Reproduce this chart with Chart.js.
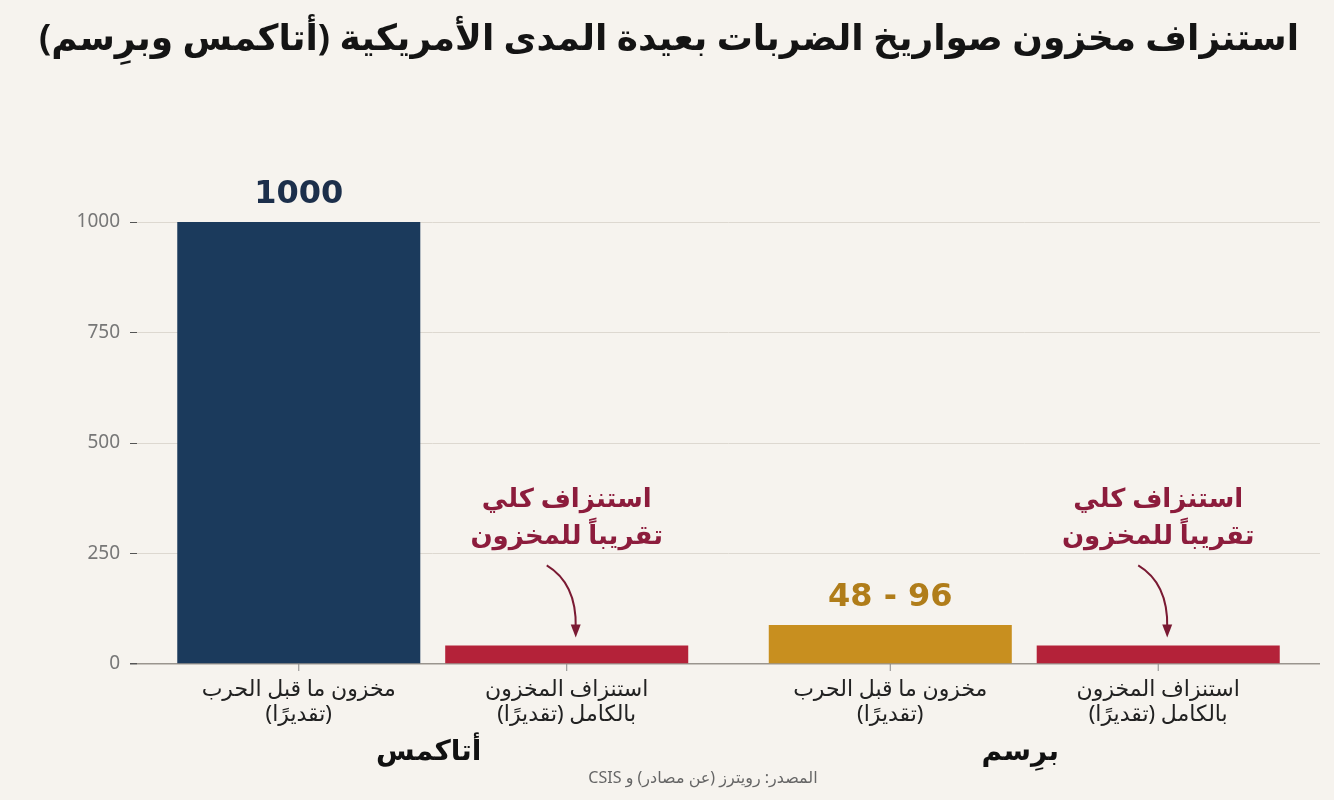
<!DOCTYPE html>
<html>
<head>
  <meta charset="UTF-8" />
  <title>Stock depletion</title>
  <script src="https://cdn.jsdelivr.net/npm/chart.js"></script>
  <style>
    html, body { margin: 0; padding: 0; background: #f6f3ee; }
    #wrap { width: 1334px; height: 800px; position: relative; }
  </style>
</head>
<body>
  <div id="wrap"><canvas id="stockChart"></canvas></div>

  <script>
    // data
    const groups = ['أتاكمس', 'برِسم'];
    const seriesNames = ['مخزون ما قبل الحرب (تقديرًا)', 'استنزاف المخزون بالكامل (تقديرًا)'];
    const preWarStock = [1000, 88];
    const depletedStock = [42, 42];
    const preWarValueLabels = ['1000', '48 - 96'];
    const yTicks = [0, 250, 500, 750, 1000];
    const preWarLines = ['مخزون ما قبل الحرب', '(تقديرًا)'];
    const depletedLines = ['استنزاف المخزون', 'بالكامل (تقديرًا)'];
    const noteLines = ['استنزاف كلي', 'تقريباً للمخزون'];
    const titleText = 'استنزاف مخزون صواريخ الضربات بعيدة المدى الأمريكية (أتاكمس وبرِسم)';
    const sourceText = 'المصدر: رويترز (عن مصادر) و CSIS';

    const NAVY = '#1b3a5c';
    const GOLD = '#c88f1f';
    const RED = '#b42239';
    const NOTE = '#8c1c3c';
    const FONT = '"Noto Sans", "DejaVu Sans", sans-serif';

    function text(ctx, str, x, y, font, color, dir) {
      ctx.save();
      ctx.font = font;
      ctx.fillStyle = color;
      ctx.textAlign = 'center';
      ctx.textBaseline = 'middle';
      ctx.direction = dir || 'rtl';
      ctx.fillText(str, x, y);
      ctx.restore();
    }

    const decor = {
      id: 'decor',
      beforeDraw(chart) {
        const ctx = chart.ctx;
        ctx.save();
        ctx.fillStyle = '#f6f3ee';
        ctx.fillRect(0, 0, chart.width, chart.height);
        ctx.restore();
      },
      afterDraw(chart) {
        const ctx = chart.ctx;
        const area = chart.chartArea;
        const pre = chart.getDatasetMeta(0).data;
        const dep = chart.getDatasetMeta(1).data;

        text(ctx, titleText, chart.width / 2 + 2, 40, 'bold 36px ' + FONT, '#141414');

        pre.forEach((bar, i) => {
          text(ctx, preWarValueLabels[i], bar.x, bar.y - 27, 'bold 32px "DejaVu Sans", sans-serif',
            i === 0 ? '#1c2f4b' : '#b07d1a', 'ltr');
          text(ctx, preWarLines[0], bar.x, area.bottom + 26, '22px ' + FONT, '#222');
          text(ctx, preWarLines[1], bar.x, area.bottom + 51, '22px ' + FONT, '#222');
        });

        dep.forEach((bar) => {
          text(ctx, depletedLines[0], bar.x, area.bottom + 26, '22px ' + FONT, '#222');
          text(ctx, depletedLines[1], bar.x, area.bottom + 51, '22px ' + FONT, '#222');
          text(ctx, noteLines[0], bar.x, 500, 'bold 26px ' + FONT, NOTE);
          text(ctx, noteLines[1], bar.x, 537, 'bold 26px ' + FONT, NOTE);

          // curved arrow down to the bar
          const top = bar.y;
          ctx.save();
          ctx.strokeStyle = '#7a1a33';
          ctx.fillStyle = '#7a1a33';
          ctx.lineWidth = 2;
          ctx.beginPath();
          ctx.moveTo(bar.x - 20, top - 80);
          ctx.quadraticCurveTo(bar.x + 10, top - 62, bar.x + 9, top - 18);
          ctx.stroke();
          ctx.beginPath();
          ctx.moveTo(bar.x + 9, top - 8);
          ctx.lineTo(bar.x + 4, top - 21);
          ctx.lineTo(bar.x + 14, top - 21);
          ctx.closePath();
          ctx.fill();
          ctx.restore();
        });

        // small ticks under each bar
        ctx.save();
        ctx.strokeStyle = '#888';
        ctx.lineWidth = 1;
        pre.concat(dep).forEach((bar) => {
          ctx.beginPath();
          ctx.moveTo(bar.x, area.bottom);
          ctx.lineTo(bar.x, area.bottom + 7);
          ctx.stroke();
        });
        ctx.restore();

        const xs = chart.scales.x;
        groups.forEach((g, i) => {
          text(ctx, g, xs.getPixelForValue(i) - 4, area.bottom + 88, 'bold 28px ' + FONT, '#111');
        });

        text(ctx, sourceText, 703, 778, '16px ' + FONT, '#666');
      }
    };

    new Chart(document.getElementById('stockChart'), {
      type: 'bar',
      data: {
        labels: groups,
        datasets: [
          {
            label: seriesNames[0],
            data: preWarStock,
            backgroundColor: [NAVY, GOLD],
            categoryPercentage: 0.906,
            barPercentage: 0.907
          },
          {
            label: seriesNames[1],
            data: depletedStock,
            backgroundColor: RED,
            categoryPercentage: 0.906,
            barPercentage: 0.907
          }
        ]
      },
      options: {
        responsive: true,
        maintainAspectRatio: false,
        animation: false,
        layout: { padding: { top: 222, right: 14, left: 0, bottom: 0 } },
        plugins: {
          legend: { display: false },
          tooltip: { enabled: false }
        },
        scales: {
          x: {
            grid: { display: false },
            border: { display: false },
            ticks: { display: false },
            afterFit: (s) => { s.height = 136; }
          },
          y: {
            min: 0,
            max: 1000,
            afterBuildTicks: (s) => { s.ticks = yTicks.map(v => ({ value: v })); },
            afterFit: (s) => { s.width = 137; },
            border: { display: false },
            grid: {
              color: (c) => c.tick && c.tick.value === 0 ? '#9a958e' : '#ddd8d0',
              lineWidth: (c) => c.tick && c.tick.value === 0 ? 1.5 : 1,
              tickColor: '#555',
              tickLength: 7
            },
            ticks: {
              color: '#777',
              font: { family: 'Noto Sans', size: 19 },
              padding: 10,
              callback: (v) => String(v)
            }
          }
        }
      },
      plugins: [decor]
    });
  </script>
</body>
</html>
